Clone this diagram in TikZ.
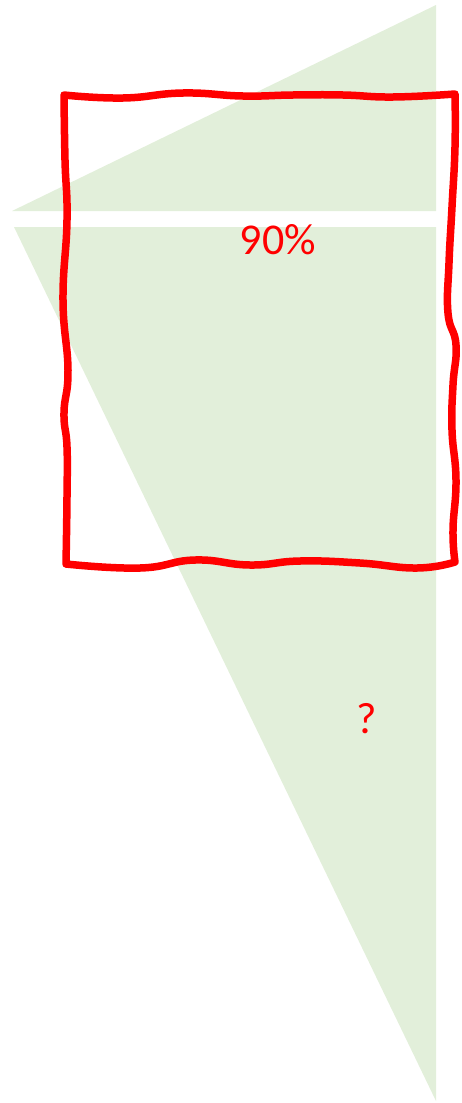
\documentclass[tikz,border=0pt]{standalone}
\usepackage{fontspec}
\setmainfont{Carlito}
\definecolor{lightgreen}{HTML}{E2EFDA}
\definecolor{pureRed}{HTML}{FF0000}
\begin{document}
\begin{tikzpicture}[x=1pt,y=-1pt,
  tri/.style={fill=lightgreen,draw=none},
  wavy/.style={draw=pureRed,line width=7.5pt,line join=round,line cap=round},
  lbl/.style={text=pureRed,font=\fontsize{44}{50}\selectfont,inner sep=0pt}]
\useasboundingbox (0,0) rectangle (462,1103);
% triangles
\fill[tri] (12,211) -- (436,5) -- (436,211) -- cycle;
\fill[tri] (14,227) -- (436,227) -- (436,1101) -- cycle;
% wavy red frame
\draw[wavy] plot[smooth,tension=0.8] coordinates {(64,95) (123,98) (183,93) (243,96) (293,95) (343,95) (393,97) (455,94)}
  -- plot[smooth,tension=0.8] coordinates {(455,94) (455,147) (452,207) (449,263) (448,313) (456,345) (453,385) (452,430) (456,480) (453,530) (455,562)}
  -- plot[smooth,tension=0.8] coordinates {(455,562) (417,568) (360,563) (300,561) (250,565) (195,560) (140,568) (66,564)}
  -- plot[smooth,tension=0.8] coordinates {(66,564) (67,497) (67,447) (64,413) (68,370) (63,300) (67,220) (65,160) (64,95)}
  -- cycle;
% labels
\node[lbl] (pct) at (278,240) {90\%};
\node[lbl] (q) at (367,719) {?};
\end{tikzpicture}
\end{document}
